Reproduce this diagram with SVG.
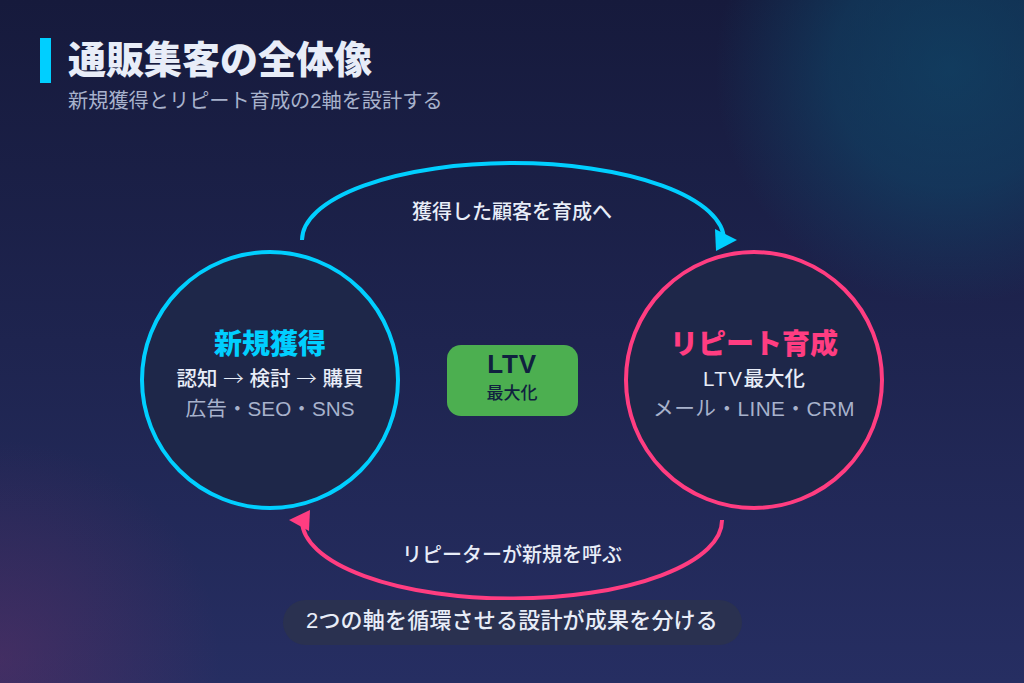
<svg xmlns="http://www.w3.org/2000/svg" width="1024" height="683" viewBox="0 0 1024 683">
<style>
text{font-family:"Liberation Sans","Noto Sans CJK JP",sans-serif;text-anchor:middle}
.cjk{font-family:"Noto Sans CJK JP",sans-serif}
.circle{fill:#1e2749;stroke-width:4}
.head{font-size:28px;font-weight:800}
.l1{font-size:20.5px;font-weight:500;fill:#e8edf8}
.l2{font-size:20.7px;fill:#a8b2cc}
.lab{font-size:20px;font-weight:500;fill:#e8edf8}
.arc{fill:none;stroke-width:4}
</style>
<defs>
<linearGradient id="bg" x1="0" y1="0" x2="0" y2="1"><stop offset="0" stop-color="#161a3c"/><stop offset="1" stop-color="#262e62"/></linearGradient>
<radialGradient id="teal" gradientUnits="userSpaceOnUse" cx="950" cy="70" r="235"><stop offset="0" stop-color="#0d5072" stop-opacity=".6"/><stop offset=".5" stop-color="#0d5072" stop-opacity=".45"/><stop offset="1" stop-color="#0d5072" stop-opacity="0"/></radialGradient>
<radialGradient id="pur" gradientUnits="userSpaceOnUse" cx="0" cy="660" r="220"><stop offset="0" stop-color="#6b2f66" stop-opacity=".42"/><stop offset="1" stop-color="#6b2f66" stop-opacity="0"/></radialGradient>
</defs>
<rect width="1024" height="683" fill="url(#bg)"/>
<rect width="1024" height="683" fill="url(#teal)"/>
<rect width="1024" height="683" fill="url(#pur)"/>
<g id="title">
<rect x="40" y="38" width="11" height="45" fill="#00cfff"/>
<text x="68" y="73" style="text-anchor:start;font-size:38px;font-weight:900" fill="#e8edf8">通販集客の全体像</text>
<text x="68" y="108" style="text-anchor:start;font-size:20.2px" fill="#a8b2cc">新規獲得とリピート育成の2軸を設計する</text>
</g>
<g id="connectors">
<path class="arc" stroke="#00cfff" d="M302 240A211 77 0 0 1 724 240"/>
<polygon fill="#00cfff" points="715,229 737,240 716,251"/>
<path class="arc" stroke="#ff3d81" d="M722 520A210 78 0 0 1 302 521"/>
<polygon fill="#ff3d81" points="310,510 289,520 309,531"/>
<text class="lab" x="512" y="219">獲得した顧客を育成へ</text>
<text class="lab" x="512" y="562">リピーターが新規を呼ぶ</text>
</g>
<g id="node-acquire">
<circle class="circle" cx="270" cy="380" r="128" stroke="#00cfff"/>
<text class="head" x="270" y="354" fill="#00cfff">新規獲得</text>
<text class="l1" x="270" y="386">認知 <tspan class="cjk" font-weight="300">→</tspan> 検討 <tspan class="cjk" font-weight="300">→</tspan> 購買</text>
<text class="l2" x="270" y="416">広告・SEO・SNS</text>
</g>
<g id="node-repeat">
<circle class="circle" cx="754" cy="380" r="128" stroke="#ff3d81"/>
<text class="head" x="754" y="354" fill="#ff3d81">リピート育成</text>
<text class="l1" x="754" y="386"><tspan letter-spacing="1.5">LTV</tspan>最大化</text>
<text class="l2" x="754" y="416" style="letter-spacing:.45px">メール・LINE・CRM</text>
</g>
<g id="node-ltv">
<rect x="447" y="345" width="131" height="71" rx="14" fill="#4caf50"/>
<text x="512" y="373" style="font-size:26px;font-weight:800;letter-spacing:.8px" fill="#10213f">LTV</text>
<text x="512" y="399" style="font-size:17px;font-weight:500" fill="#10213f">最大化</text>
</g>
<g id="footer">
<rect x="283" y="600" width="459" height="45" rx="22.5" fill="#2a3150"/>
<text x="512" y="628" style="font-size:22px;font-weight:500;letter-spacing:.2px" fill="#e8edf8">2つの軸を循環させる設計が成果を分ける</text>
</g>
</svg>
